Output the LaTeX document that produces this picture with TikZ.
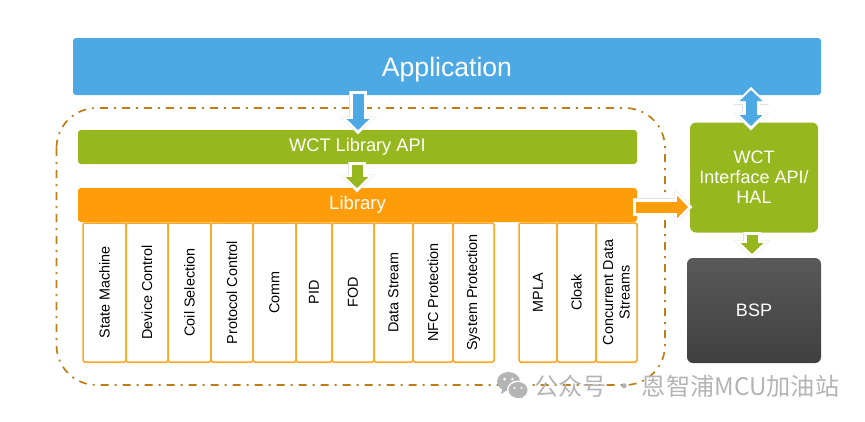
\documentclass[tikz,border=0pt]{standalone}
\usepackage{fontspec}
\setmainfont{Liberation Sans}
\newfontfamily\cjk{Noto Sans CJK SC}
\usetikzlibrary{calc,arrows.meta}

\definecolor{appblue}{HTML}{4DA9E3}
\definecolor{apigreen}{HTML}{96B71E}
\definecolor{liborange}{HTML}{FF9C0A}
\definecolor{ringbrown}{HTML}{C17C14}
\definecolor{markgray}{HTML}{B4B4B4}

\tikzset{
  bigbox/.style={rounded corners=3pt,inner sep=0pt,text=white,align=center},
  cellbox/.style={draw=liborange!90!white,line width=1.5pt,fill=white,rounded corners=1.5pt,
    inner sep=0pt,rotate=90,minimum width=139pt,font=\fontsize{14.4}{16.5}\selectfont,align=center},
}

% white outlined block arrow: colour, start tip, from, to
\newcommand{\blockarrow}[4]{
  \draw[blocktip/.tip={Triangle[length=18pt,width=35pt]},black!12,line width=18pt,#2-blocktip,shorten >=-.7pt] (#3) -- (#4);
  \draw[blocktip/.tip={Triangle[length=17pt,width=33pt]},white,line width=17pt,#2-blocktip] (#3) -- (#4);
  \draw[blocktip/.tip={Triangle[length=11pt,width=22pt]},#1,line width=11pt,#2-blocktip,shorten >=4pt,shorten <=3pt] (#3) -- (#4);
}

\begin{document}
\begin{tikzpicture}[x=1pt,y=-1pt]
\useasboundingbox (0,0) rectangle (865,421);

\draw[ringbrown,line width=1.7pt,rounded corners=40pt,dash pattern=on 8pt off 6pt on 2pt off 6pt]
  (56.5,108) rectangle (665,385);

\node[bigbox,fill=appblue,minimum width=748pt,minimum height=57pt,font=\fontsize{26.6}{30}\selectfont]
  (app) at (447,66.5) {\raisebox{-9.5pt}[0pt][0pt]{Application}};
\node[bigbox,fill=apigreen,minimum width=559pt,minimum height=34pt,font=\fontsize{18.2}{20}\selectfont]
  (libapi) at (357.5,147) {WCT Library API};
\node[bigbox,fill=liborange,minimum width=559pt,minimum height=34pt,font=\fontsize{18.5}{20}\selectfont]
  (lib) at (357.5,205) {Library};
\node[bigbox,rounded corners=6pt,fill=apigreen,minimum width=128pt,minimum height=110pt,
  font=\fontsize{18}{20}\selectfont] (iface) at (754,177.5) {WCT\\Interface API/\\HAL};
\node[bigbox,rounded corners=6pt,top color=black!65!white,bottom color=black!75!white,
  minimum width=134pt,minimum height=105pt,font=\fontsize{18}{20}\selectfont]
  (bsp) at (754,310.5) {BSP};

\foreach \i/\xa/\xb/\txt in {
  state/83/126/State Machine,
  device/126/168/Device Control,
  coil/168/211/Coil Selection,
  protocol/211/253/Protocol Control,
  comm/253/296/Comm,
  pid/296/332/PID,
  fod/332/374/FOD,
  stream/374/413/Data Stream,
  nfc/413/453/NFC Protection,
  system/453/494/System Protection,
  mpla/519/557/MPLA,
  cloak/557/596/Cloak,
  concurrent/596/637/{Concurrent Data\\Streams}} {
  \pgfmathsetmacro{\cellw}{\xb-\xa}
  \pgfmathsetmacro{\xm}{(\xa+\xb)/2}
  \node[cellbox,minimum height=\cellw pt] (\i) at (\xm,292.5) {\txt};
}

\coordinate (a1) at (358,91);
\coordinate (a2) at (358,134);
\coordinate (b1) at (357,162);
\coordinate (b2) at (357,192);
\coordinate (c1) at (751,87);
\coordinate (c2) at (751,130);
\coordinate (d1) at (633,207);
\coordinate (d2) at (692,207);
\coordinate (e1) at (752,232);
\coordinate (e2) at (752,258);

\blockarrow{appblue}{}{a1}{a2}
\blockarrow{apigreen}{}{b1}{b2}
\blockarrow{appblue}{blocktip}{c1}{c2}
\blockarrow{liborange}{}{d1}{d2}
\blockarrow{apigreen}{}{e1}{e2}

% watermark
\begin{scope}[markgray]
\fill (508.5,381.5) ellipse (11.5pt and 9.5pt);
\fill (501,394) -- (503,386) -- (509,389) -- cycle;
\fill[white] (504.5,379) circle (1.5pt) (512.5,379) circle (1.5pt);
\fill[white] (518,390) ellipse (11pt and 9.5pt);
\fill (518,390) ellipse (9.5pt and 8pt);
\fill (523,398) -- (521,394) -- (517,396) -- cycle;
\fill[white] (514.5,388) circle (1.2pt) (521.5,388) circle (1.2pt);
\end{scope}
\node[text=markgray,font=\cjk\fontsize{24.2}{26}\selectfont,inner sep=0pt,anchor=west]
  (mark) at (534,386) {公众号 · 恩智浦MCU加油站};

\end{tikzpicture}
\end{document}
